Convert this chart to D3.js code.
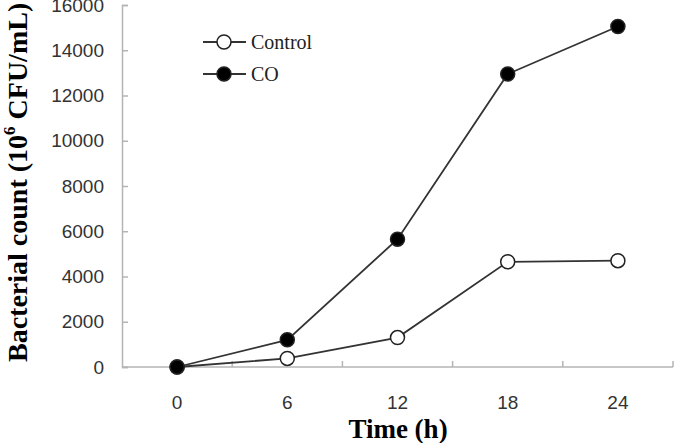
<!DOCTYPE html>
<html>
<head>
<meta charset="utf-8">
<script src="https://cdn.jsdelivr.net/npm/d3@7"></script>
<style>
  body { margin: 0; background: #fff; }
  svg { display: block; }
</style>
</head>
<body>
<script>
// data
const hours = ['0', '6', '12', '18', '24'];
const control = [0, 380, 1300, 4650, 4700];
const co = [0, 1200, 5650, 12950, 15050];
const yTicks = [0, 2000, 4000, 6000, 8000, 10000, 12000, 14000, 16000];

const width = 676, height = 443;
const plotLeft = 122, plotRight = 673, plotTop = 5, plotBottom = 367;

const svg = d3.select('body').append('svg')
    .attr('width', width)
    .attr('height', height)

const x = d3.scaleBand()
    .domain(hours)
    .range([plotLeft, plotRight])
    .padding(0)

const y = d3.scaleLinear()
    .domain([0, 16000])
    .range([plotBottom, plotTop])

const axisColor = '#b4b4b4';
const tickFont = '"Liberation Sans", Arial, sans-serif';
const serif = '"Liberation Serif", "Times New Roman", serif';

// y axis, ticks pointing inward
const gy = svg.append('g')
    .attr('transform', `translate(${plotLeft},0)`)
    .call(d3.axisRight(y).tickValues(yTicks).tickSize(6).tickFormat(d3.format('d')))
gy.select('.domain').attr('stroke', axisColor).attr('stroke-width', 1.5)
gy.selectAll('.tick line').attr('stroke', axisColor).attr('stroke-width', 1.5)
gy.selectAll('.tick text')
    .attr('x', -18)
    .attr('text-anchor', 'end')
    .attr('fill', '#333')
    .style('font-family', tickFont)
    .style('font-size', '19px')

// x axis: category ticks between bands, pointing up
const gx = svg.append('g')
    .attr('transform', `translate(0,${plotBottom})`)
gx.append('line')
    .attr('x1', plotLeft).attr('x2', plotRight)
    .attr('stroke', axisColor).attr('stroke-width', 1.5)
const edges = hours.map(h => x(h) + x.bandwidth());
gx.selectAll('line.tk').data(edges).join('line')
    .attr('class', 'tk')
    .attr('x1', d => d).attr('x2', d => d)
    .attr('y1', 0).attr('y2', -6)
    .attr('stroke', axisColor).attr('stroke-width', 1.5)
gx.selectAll('text').data(hours).join('text')
    .attr('x', d => x(d) + x.bandwidth() / 2)
    .attr('y', 42)
    .attr('text-anchor', 'middle')
    .attr('fill', '#333')
    .style('font-family', tickFont)
    .style('font-size', '19px')
    .text(d => d)

// axis titles
svg.append('text')
    .attr('x', 398)
    .attr('y', 438)
    .attr('text-anchor', 'middle')
    .style('font-family', serif)
    .style('font-weight', 'bold')
    .style('font-size', '27px')
    .text('Time (h)')

const ylab = svg.append('text')
    .attr('transform', 'translate(27,362) rotate(-90)')
    .attr('text-anchor', 'start')
    .style('font-family', serif)
    .style('font-weight', 'bold')
    .style('font-size', '28px')
ylab.append('tspan').text('Bacterial count (10')
ylab.append('tspan').attr('dy', -12).style('font-size', '17px').text('6')
ylab.append('tspan').attr('dy', 12).text(' CFU/mL)')

// series
const series = [
    { name: 'Control', values: control, fill: '#fff' },
    { name: 'CO', values: co, fill: '#000' }
];

const line = d3.line()
    .x((d, i) => x(hours[i]) + x.bandwidth() / 2)
    .y(d => y(d))

series.forEach(s => {
    svg.append('path')
        .datum(s.values)
        .attr('d', line)
        .attr('fill', 'none')
        .attr('stroke', '#333')
        .attr('stroke-width', 1.8)
    svg.selectAll(null).data(s.values).join('circle')
        .attr('cx', (d, i) => x(hours[i]) + x.bandwidth() / 2)
        .attr('cy', d => y(d))
        .attr('r', 7)
        .attr('fill', s.fill)
        .attr('stroke', '#222')
        .attr('stroke-width', 1.5)
})

// legend
const legend = svg.append('g')
series.forEach((s, i) => {
    const ly = 42 + i * 32;
    legend.append('line')
        .attr('x1', 203).attr('x2', 246)
        .attr('y1', ly).attr('y2', ly)
        .attr('stroke', '#333').attr('stroke-width', 1.8)
    legend.append('circle')
        .attr('cx', 224).attr('cy', ly).attr('r', 7)
        .attr('fill', s.fill).attr('stroke', '#222').attr('stroke-width', 1.5)
    legend.append('text')
        .attr('x', 251).attr('y', ly + 7)
        .style('font-family', serif)
        .style('font-size', '20px')
        .attr('fill', '#222')
        .text(s.name)
})
</script>
</body>
</html>
